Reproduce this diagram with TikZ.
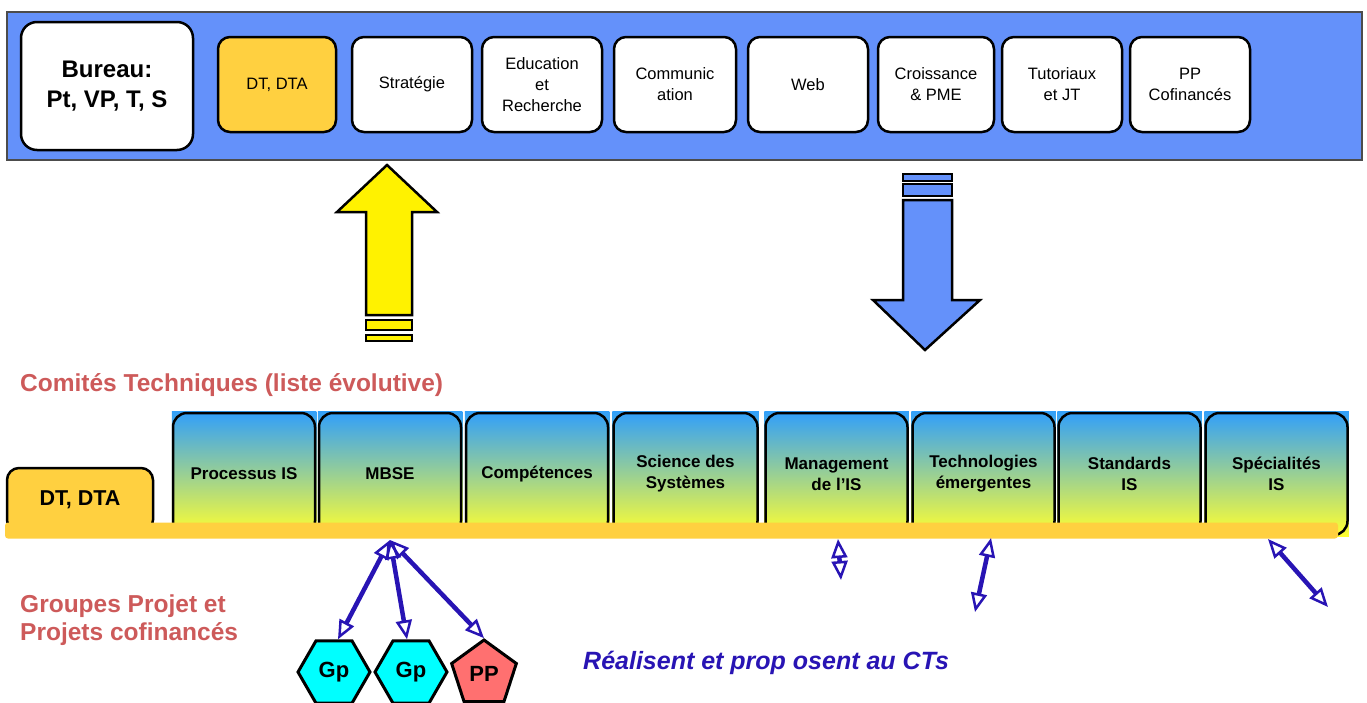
\documentclass[tikz,border=0pt]{standalone}
\usepackage{fontspec}
\setmainfont{Liberation Sans}
\usetikzlibrary{shapes.geometric,arrows.meta,backgrounds}
\definecolor{panelblue}{RGB}{100,145,250}
\definecolor{gold}{RGB}{255,208,64}
\definecolor{ctblue}{RGB}{51,160,248}
\definecolor{ctyellow}{RGB}{255,255,48}
\definecolor{salmon}{RGB}{205,90,90}
\definecolor{linkblue}{RGB}{40,20,180}
\definecolor{cyanfill}{RGB}{0,255,255}
\definecolor{ppred}{RGB}{255,112,112}
\tikzset{
  topbox/.style={draw=black, line width=2.5pt, rounded corners=12pt, fill=white,
    minimum width=118pt, minimum height=95pt, align=center, inner sep=0pt,
    font=\fontsize{16.5}{21}\selectfont},
  ctbox/.style={draw=black, line width=2.5pt, rounded corners=14pt,
    top color=ctblue, bottom color=ctyellow,
    minimum width=142pt, minimum height=122pt, align=center, inner sep=0pt,
    font=\bfseries\fontsize{17}{21}\selectfont},
  bigarrow/.style={draw=black, line width=2.5pt, line join=miter},
  link/.style={draw=linkblue, line width=4.5pt,
    {Triangle[open,line width=2.5pt,length=19pt,width=16pt]}-{Triangle[open,line width=2.5pt,length=19pt,width=16pt]}},
  grp/.style={draw=black, line width=3pt, inner sep=0pt,
    font=\bfseries\fontsize{22}{24}\selectfont},
  heading/.style={text=salmon, font=\bfseries\fontsize{24.5}{28}\selectfont, align=left, inner sep=0pt}
}
\begin{document}
\begin{tikzpicture}[x=1pt,y=-1pt]
\useasboundingbox (0,0) rectangle (1367,702);
% top panel
\node[draw=black!70, line width=1.5pt, fill=panelblue, minimum width=1355pt, minimum height=148pt, inner sep=0pt] (panel) at (684.5,86) {};
\node[topbox, minimum width=172pt, minimum height=128pt, rounded corners=16pt, font=\bfseries\fontsize{24}{30}\selectfont] (bureau) at (107,86) {Bureau:\\Pt, VP, T, S};
\node[topbox, fill=gold] (dt) at (277,84.5) {DT, DTA};
\node[topbox, minimum width=120pt] (strat) at (412,84.5) {Stratégie};
\node[topbox, minimum width=120pt] (edu) at (542,84.5) {Education\\et\\Recherche};
\node[topbox, minimum width=122pt] (comm) at (675,84.5) {Communic\\ation};
\node[topbox, minimum width=120pt] (web) at (808,84.5) {Web};
\node[topbox, minimum width=116pt] (crois) at (936,84.5) {Croissance\\\& PME};
\node[topbox, minimum width=120pt] (tut) at (1062,84.5) {Tutoriaux\\et JT};
\node[topbox, minimum width=120pt] (ppc) at (1190,84.5) {PP\\Cofinancés};
% big arrows
\draw[bigarrow, fill=yellow] (387,165) -- (437,212) -- (412,212) -- (412,315) -- (366,315) -- (366,212) -- (337,212) -- cycle;
\draw[bigarrow, fill=yellow] (366,320) rectangle (412,330);
\draw[bigarrow, fill=yellow] (366,335) rectangle (412,341);
\draw[bigarrow, fill=panelblue] (903,174) rectangle (952,181);
\draw[bigarrow, fill=panelblue] (903,184) rectangle (952,196);
\draw[bigarrow, fill=panelblue] (903,200) -- (952,200) -- (952,300) -- (980,300) -- (925,350) -- (873,300) -- (903,300) -- cycle;
% headings
\node[heading, anchor=west] (ct) at (20,385) {Comités Techniques (liste évolutive)};
\node[heading, anchor=west] (gp) at (20,620) {Groupes Projet et\\Projets cofinancés};
% lower boxes
\node[draw=black, line width=2.5pt, rounded corners=12pt, fill=gold, minimum width=146pt, minimum height=64pt, inner sep=0pt, font=\bfseries\fontsize{21.5}{22}\selectfont] (dtl) at (80,500) {DT, DTA};
\node[ctbox] (pis) at (244,474) {Processus IS};
\node[ctbox] (mbse) at (390,474) {MBSE};
\node[ctbox] (comp) at (537,474) {Compétences};
\node[ctbox, minimum width=144pt] (sci) at (685.5,474) {Science des\\Systèmes};
\node[ctbox] (mgmt) at (836.5,474) {Management\\de l’IS};
\node[ctbox] (tech) at (983.5,474) {Technologies\\émergentes};
\node[ctbox] (std) at (1129.5,474) {Standards\\IS};
\node[ctbox] (spec) at (1276.5,474) {Spécialités\\IS};
\begin{scope}[on background layer]
\foreach \n in {pis,mbse,comp,sci,mgmt,tech,std,spec}
  \shade[top color=ctblue, bottom color=ctyellow] (\n.north west) rectangle (\n.south east);
\end{scope}
\node[fill=gold, rounded corners=3pt, minimum width=1333pt, minimum height=16pt, inner sep=0pt] (bar) at (671.5,530.5) {};
% groups
\node[grp, regular polygon, regular polygon sides=6, minimum size=72pt, fill=cyanfill] (g1) at (334,672) {Gp};
\node[grp, regular polygon, regular polygon sides=6, minimum size=72pt, fill=cyanfill] (g2) at (411,672) {Gp};
\node[grp, regular polygon, regular polygon sides=5, minimum size=68pt, fill=ppred] (pp) at (484,674) {PP};
\coordinate (mb) at (390,540);
\coordinate (mg1) at (838,539);
\coordinate (mg2) at (841,580);
\coordinate (te1) at (991,538);
\coordinate (te2) at (975,612);
\coordinate (sp1) at (1268,539);
\coordinate (sp2) at (1328,607);
\draw[link] (mb) -- ([xshift=4pt]g1.north);
\draw[link] (mb) -- ([xshift=-4pt]g2.north);
\draw[link] (mb) -- (pp.north);
\draw[link] (mg1) -- (mg2);
\draw[link] (te1) -- (te2);
\draw[link] (sp1) -- (sp2);
\node[anchor=west, inner sep=0pt, text=linkblue, font=\bfseries\itshape\fontsize{25}{24}\selectfont] (real) at (583,663) {Réalisent et prop osent au CTs};
\end{tikzpicture}
\end{document}
